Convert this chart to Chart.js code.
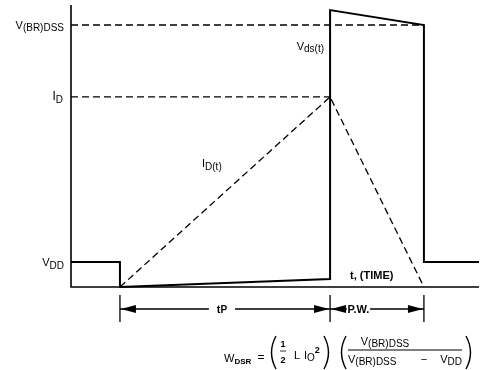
<!DOCTYPE html>
<html>
<head>
<meta charset="utf-8">
<script src="https://cdn.jsdelivr.net/npm/chart.js@4.4.1/dist/chart.umd.min.js"></script>
<style>
  html, body { margin: 0; padding: 0; background: #fff; }
</style>
</head>
<body>
<canvas id="chart" width="480" height="370"></canvas>
<script>
// waveform (time 0..100, level 0..100)
const vdsTime  = [0, 12, 12, 63.5, 63.5, 86.5, 86.5, 100];
const vdsLevel = [8.9, 8.9, 0, 2.8, 98.2, 92.9, 8.9, 8.9];
const idTime   = [12, 63.5, 86.5];
const idLevel  = [0, 67.4, 0];
const refNames  = ['V(BR)DSS', 'ID', 'VDD'];
const refLevels = [92.9, 67.4, 8.9];
const refEnds   = [86.5, 63.5, null];   // VDD has no dashed guide
const spanMarks  = [12, 63.5, 86.5];     // tp start, tp end / PW start, PW end
const spanLabels = ['tP', 'P.W.'];

const FONT = '"Liberation Sans", Arial, sans-serif';
const dimY = -7.8;

const pts = (xs, ys) => xs.map((x, i) => ({ x: x, y: ys[i] }));

const guides = [];
refLevels.forEach((lv, i) => {
  if (refEnds[i] !== null) {
    guides.push({ data: [{ x: 0, y: lv }, { x: refEnds[i], y: lv }], borderDash: [7, 4], borderWidth: 1.3 });
  }
});

// dimension line segments with gaps for the labels
const dimData = [];
spanMarks.forEach(t => {
  dimData.push({ x: t, y: -2.8 }, { x: t, y: -12.4 }, { x: t, y: null });
});
const gaps = [[33.8, 40.2], [67.6, 73.3]];
dimData.push({ x: spanMarks[0], y: dimY }, { x: gaps[0][0], y: dimY }, { x: gaps[0][0], y: null });
dimData.push({ x: gaps[0][1], y: dimY }, { x: spanMarks[1], y: dimY }, { x: spanMarks[1], y: null });
dimData.push({ x: spanMarks[1], y: dimY }, { x: gaps[1][0], y: dimY }, { x: gaps[1][0], y: null });
dimData.push({ x: gaps[1][1], y: dimY }, { x: spanMarks[2], y: dimY });

function rich(ctx, x, y, parts, align) {
  // parts: [text, size, dy, weight]
  let w = 0;
  parts.forEach(p => { ctx.font = (p[3] || 'normal') + ' ' + p[1] + 'px ' + FONT; w += ctx.measureText(p[0]).width; });
  let cx = align === 'right' ? x - w : align === 'center' ? x - w / 2 : x;
  ctx.textAlign = 'left';
  ctx.textBaseline = 'alphabetic';
  parts.forEach(p => {
    ctx.font = (p[3] || 'normal') + ' ' + p[1] + 'px ' + FONT;
    ctx.fillText(p[0], cx, y + p[2]);
    cx += ctx.measureText(p[0]).width;
  });
  return w;
}

function arrow(ctx, tipX, y, dir) {
  ctx.beginPath();
  ctx.moveTo(tipX, y);
  ctx.lineTo(tipX - dir * 15, y - 4);
  ctx.lineTo(tipX - dir * 15, y + 4);
  ctx.closePath();
  ctx.fill();
}

// thin tall bracket, dir -1 = "(", 1 = ")"
function paren(ctx, x, top, bottom, dir) {
  const mid = (top + bottom) / 2;
  ctx.beginPath();
  ctx.moveTo(x, top);
  ctx.quadraticCurveTo(x + dir * 9, mid, x, bottom);
  ctx.stroke();
}

const labelsPlugin = {
  id: 'labels',
  afterDatasetsDraw(chart) {
    const ctx = chart.ctx;
    const sx = v => chart.scales.x.getPixelForValue(v);
    const sy = v => chart.scales.y.getPixelForValue(v);
    ctx.save();
    ctx.fillStyle = '#000';
    ctx.strokeStyle = '#000';

    // left-hand level labels
    rich(ctx, 64, sy(refLevels[0]) + 4, [['V', 11, 0], ['(BR)DSS', 10, 2]], 'right');
    rich(ctx, 63, sy(refLevels[1]) + 3, [['I', 12, 0], ['D', 10, 3]], 'right');
    rich(ctx, 64, sy(refLevels[2]) + 4, [['V', 11, 0], ['DD', 10, 3]], 'right');

    // curve labels
    rich(ctx, 324, 50, [['V', 11, 0], ['ds(t)', 10, 2]], 'right');
    rich(ctx, 202, 167, [['I', 11, 0], ['D(t)', 10, 3]], 'left');
    rich(ctx, 350, 279, [['t, (TIME)', 11, 0, 'bold']], 'left');

    // dimension arrows and labels
    const ay = sy(dimY);
    arrow(ctx, sx(spanMarks[0]) + 1, ay, -1);
    arrow(ctx, sx(spanMarks[1]) - 1, ay, 1);
    arrow(ctx, sx(spanMarks[1]) + 1, ay, -1);
    arrow(ctx, sx(spanMarks[2]) - 1, ay, 1);
    rich(ctx, (sx(gaps[0][0]) + sx(gaps[0][1])) / 2, ay + 4, [['t', 11, 0, 'bold'], [spanLabels[0].slice(1), 10, 0, 'bold']], 'center');
    rich(ctx, (sx(gaps[1][0]) + sx(gaps[1][1])) / 2, ay + 4, [[spanLabels[1], 11, 0, 'bold']], 'center');

    // formula
    const fb = 362;
    rich(ctx, 224, fb, [['W', 11, 0], ['DSR', 8, 2, 'bold']], 'left');
    rich(ctx, 261, fb - 1, [['=', 12, 0]], 'center');
    ctx.lineWidth = 1.4;
    paren(ctx, 276, 336, 369, -1);
    paren(ctx, 324, 336, 369, 1);
    paren(ctx, 346, 336, 369, -1);
    paren(ctx, 466, 336, 369, 1);
    ctx.font = 'bold 9px ' + FONT;
    ctx.textAlign = 'center';
    ctx.textBaseline = 'alphabetic';
    ctx.fillText('1', 283, 347);
    ctx.fillText('2', 283, 363);
    ctx.lineWidth = 0.8;
    ctx.beginPath(); ctx.moveTo(280, 351); ctx.lineTo(286, 351); ctx.stroke();
    rich(ctx, 294, fb - 3, [['L', 11, 0]], 'left');
    rich(ctx, 304, fb - 3, [['I', 11, 0], ['O', 10, 2], ['2', 9, -6, 'bold']], 'left');
    rich(ctx, 385, 345, [['V', 11, 0], ['(BR)DSS', 10, 2]], 'center');
    ctx.lineWidth = 1.2;
    ctx.beginPath(); ctx.moveTo(348, 350); ctx.lineTo(462, 350); ctx.stroke();
    rich(ctx, 348, 363, [['V', 11, 0], ['(BR)DSS', 10, 2]], 'left');
    rich(ctx, 424, 363, [['\u2212', 11, 0]], 'center');
    rich(ctx, 462, 363, [['V', 11, 0], ['DD', 10, 2]], 'right');
    ctx.restore();
  }
};

const base = { showLine: true, pointRadius: 0, borderColor: '#000', fill: false, clip: false, tension: 0 };

new Chart(document.getElementById('chart').getContext('2d'), {
  type: 'scatter',
  data: {
    datasets: [
      Object.assign({}, base, { label: 'axes', data: [{ x: 0, y: 100 }, { x: 0, y: 0 }, { x: 100, y: 0 }], borderWidth: 1.6 }),
      Object.assign({}, base, { label: 'Vds(t)', data: pts(vdsTime, vdsLevel), borderWidth: 2 }),
      Object.assign({}, base, { label: 'ID(t)', data: pts(idTime, idLevel), borderWidth: 1.3, borderDash: [7, 4] }),
      ...guides.map((g, i) => Object.assign({}, base, { label: 'guide' + i }, g)),
      Object.assign({}, base, { label: 'dim', data: dimData, borderWidth: 1.3, spanGaps: false })
    ]
  },
  options: {
    responsive: false,
    animation: false,
    layout: { padding: { left: 71, right: 1, top: 5, bottom: 83 } },
    scales: {
      x: { type: 'linear', display: false, min: 0, max: 100 },
      y: { type: 'linear', display: false, min: 0, max: 100 }
    },
    plugins: { legend: { display: false }, tooltip: { enabled: false } }
  },
  plugins: [labelsPlugin]
});
</script>
</body>
</html>
